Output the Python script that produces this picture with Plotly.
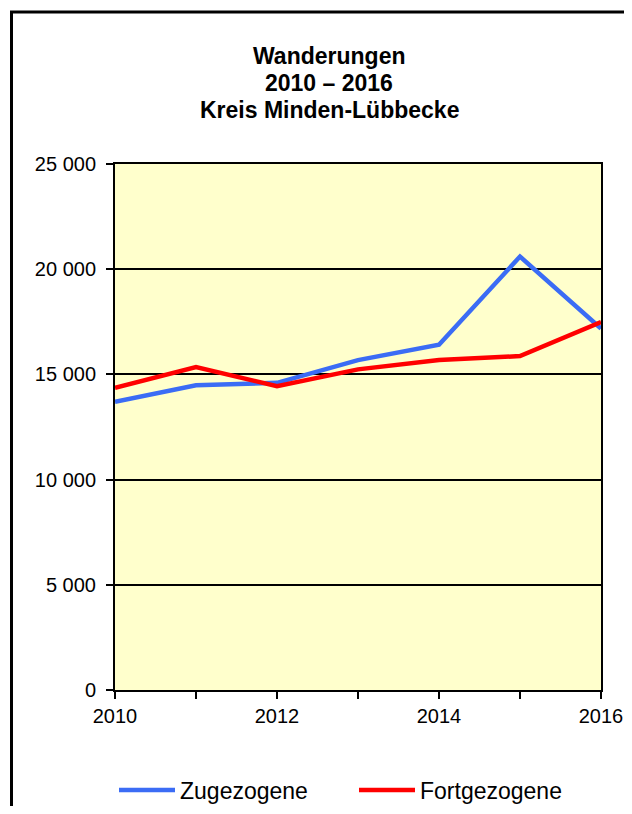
import plotly.graph_objects as go

years = [2010, 2011, 2012, 2013, 2014, 2015, 2016]
zugezogene = [13700, 14480, 14600, 15680, 16410, 20600, 17180]
fortgezogene = [14360, 15350, 14440, 15240, 15680, 15870, 17490]
y_ticks = [0, 5000, 10000, 15000, 20000, 25000]
y_tick_labels = ["0", "5 000", "10 000", "15 000", "20 000", "25 000"]
x_ticks = [2010, 2012, 2014, 2016]
title_lines = ["Wanderungen", "2010 – 2016", "Kreis Minden-Lübbecke"]

FONT = "Liberation Sans, Arial, sans-serif"
W, H = 624, 798
L, R, T, B = 107, 31, 156, 116
PW, PH = W - L - R, H - T - B

fig = go.Figure()
fig.add_trace(go.Scatter(x=years, y=zugezogene, mode="lines", name="Zugezogene",
                         line=dict(color="#3B6CF5", width=4.5), legend="legend"))
fig.add_trace(go.Scatter(x=years, y=fortgezogene, mode="lines", name="Fortgezogene",
                         line=dict(color="#FF0000", width=4.5), legend="legend2"))

leg_common = dict(orientation="h", xanchor="left", yanchor="middle", y=-0.19,
                  font=dict(family=FONT, size=23, color="black"),
                  bgcolor="rgba(0,0,0,0)", itemwidth=56)

fig.update_layout(
    width=W, height=H,
    margin=dict(l=L, r=R, t=T, b=B, autoexpand=False),
    paper_bgcolor="white",
    plot_bgcolor="#FFFFCC",
    font=dict(family=FONT, size=20, color="black"),
    showlegend=True,
    legend=dict(x=(114 - 8 - L) / PW, **leg_common),
    legend2=dict(x=(354 - 8 - L) / PW, **leg_common),
    xaxis=dict(range=[2010, 2016], tickvals=x_ticks, ticktext=[str(v) for v in x_ticks],
               ticks="outside", ticklen=7, tickwidth=2, tickcolor="black",
               minor=dict(dtick=1, tick0=2010, ticks="outside", ticklen=7, tickwidth=2, tickcolor="black"),
               showgrid=False, zeroline=False,
               showline=True, linecolor="black", linewidth=2, mirror=True,
               tickfont=dict(size=20)),
    yaxis=dict(range=[0, 25000], tickvals=y_ticks, ticktext=y_tick_labels,
               ticks="outside", ticklen=7, tickwidth=2, tickcolor="black",
               ticklabelstandoff=6,
               showgrid=True, gridcolor="black", gridwidth=2, zeroline=False,
               showline=True, linecolor="black", linewidth=2, mirror=True,
               tickfont=dict(size=20)),
)

# title, one line per annotation for exact line spacing
for text, yc in zip(title_lines, [48, 74.5, 102]):
    fig.add_annotation(text=f"<b>{text}</b>", xref="paper", yref="paper",
                       x=(321 - L) / PW, y=(T + PH - yc) / PH,
                       xanchor="center", yanchor="middle", showarrow=False,
                       font=dict(family=FONT, size=23, color="black"))

# outer chart frame
fig.add_shape(type="rect", xref="paper", yref="paper",
              x0=(3.5 - L) / PW, x1=1.2, y0=-0.4, y1=(T + PH - 4) / PH,
              line=dict(color="black", width=3), fillcolor="rgba(0,0,0,0)", layer="below")

fig.write_html("out.html")
